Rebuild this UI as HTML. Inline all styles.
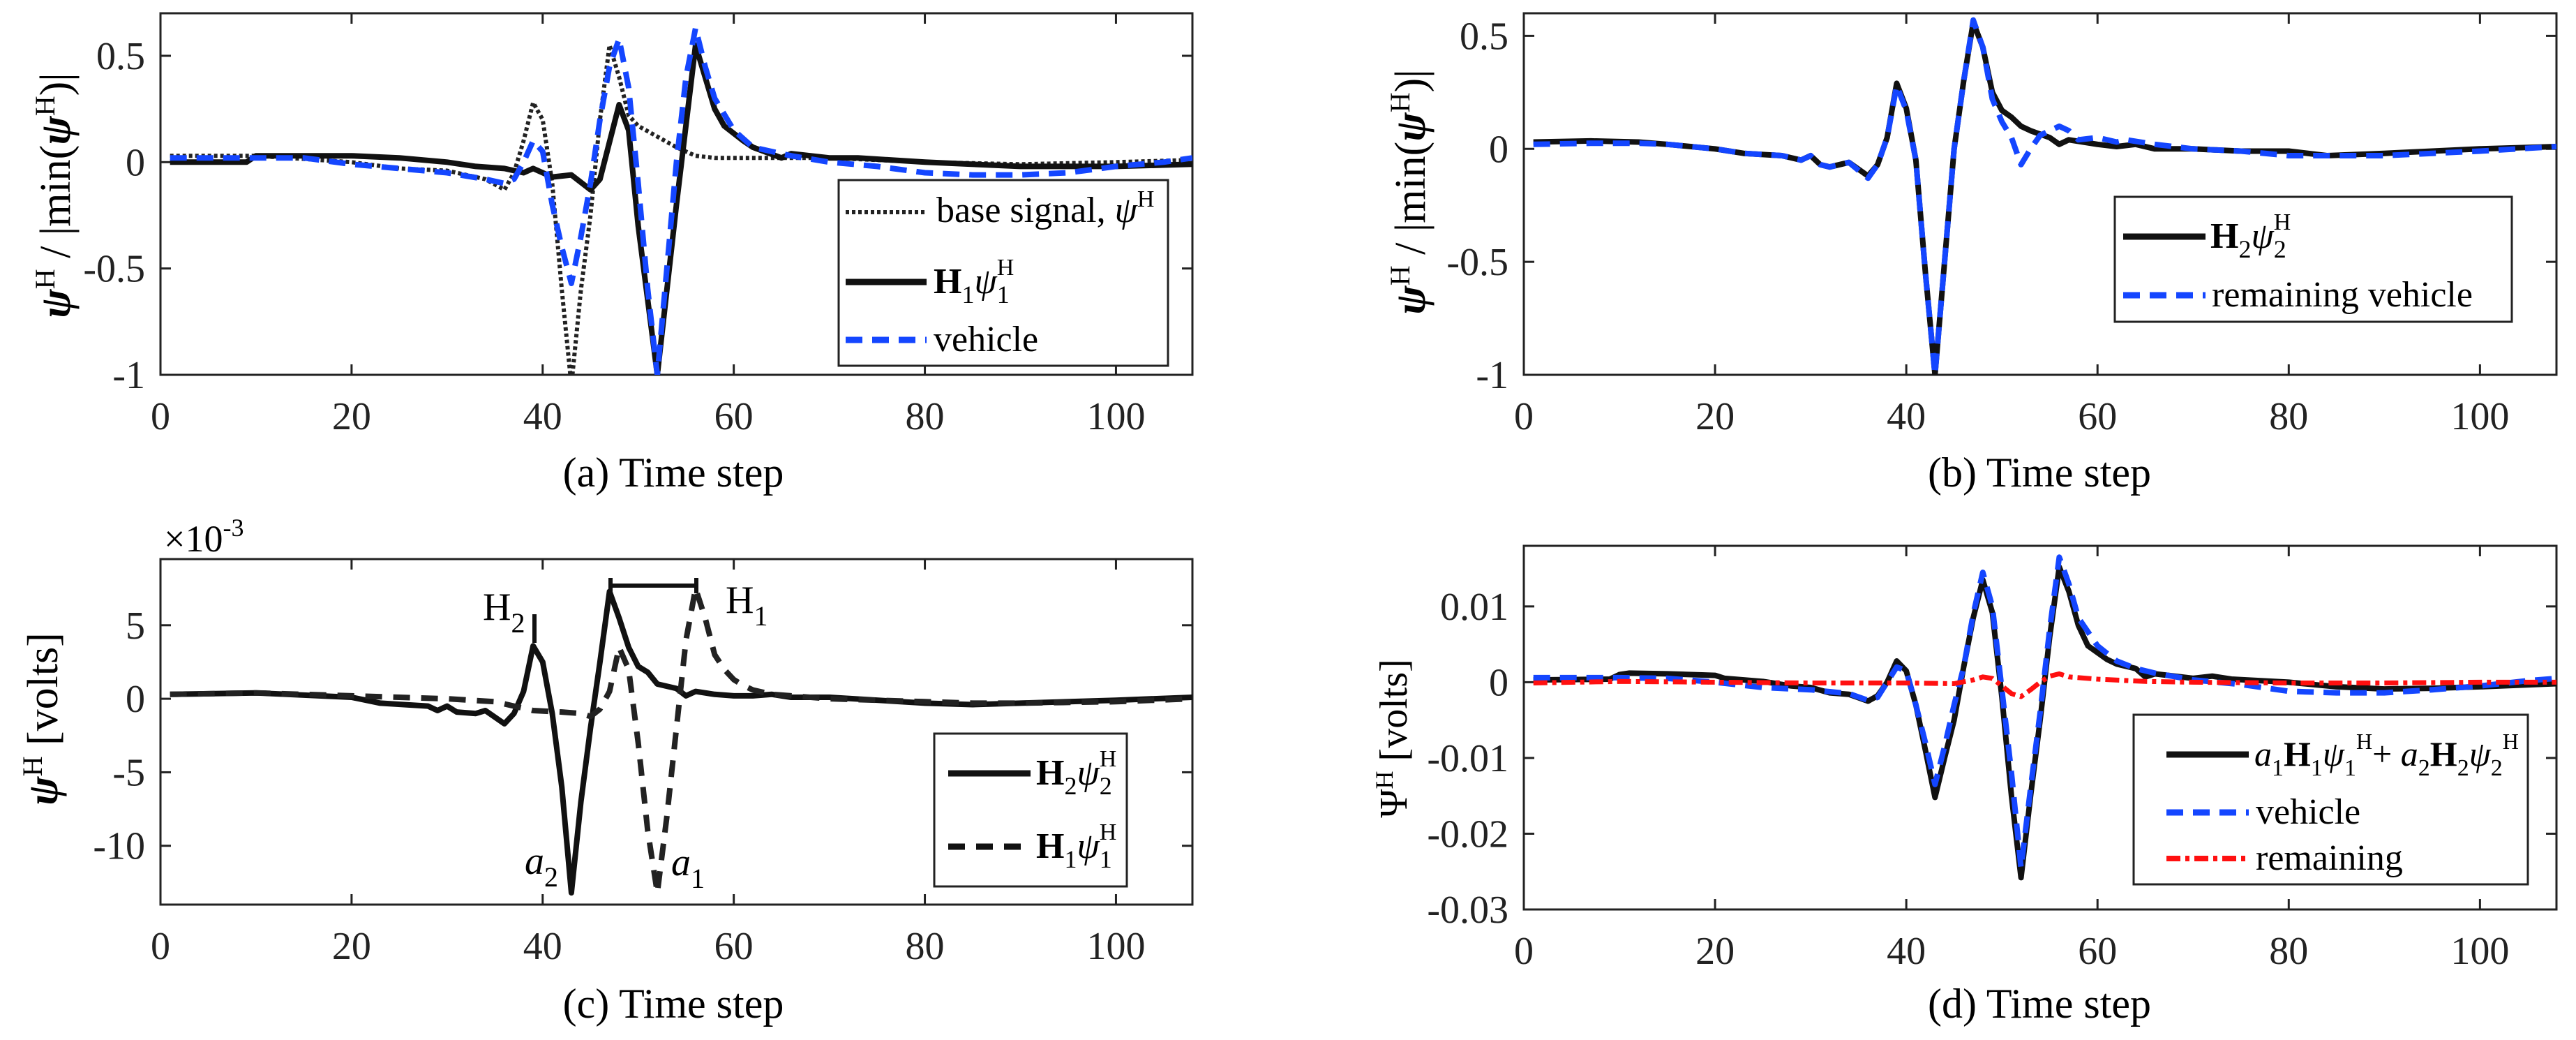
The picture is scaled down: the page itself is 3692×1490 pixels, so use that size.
<!DOCTYPE html>
<html><head><meta charset="utf-8"><style>
html,body{margin:0;padding:0;background:#fff;}
svg{display:block;}
svg text{font-family:"Liberation Serif","DejaVu Serif",serif;}
</style></head><body>
<svg id="fig" width="3692" height="1490" viewBox="0 0 3692 1490" xmlns="http://www.w3.org/2000/svg" font-family="Liberation Serif, serif">
<defs>
<clipPath id="clipA"><rect x="230" y="19" width="1479" height="518"/></clipPath>
<clipPath id="clipB"><rect x="2184" y="19" width="1480" height="518"/></clipPath>
<clipPath id="clipC"><rect x="230" y="801" width="1479" height="495"/></clipPath>
<clipPath id="clipD"><rect x="2184" y="782" width="1480" height="521"/></clipPath>
</defs>
<g id="layer"></g>

<text x="965" y="697" font-size="60" text-anchor="middle">(a) Time step</text>
<text x="2923" y="697" font-size="60" text-anchor="middle">(b) Time step</text>
<text x="965" y="1458" font-size="60" text-anchor="middle">(c) Time step</text>
<text x="2923" y="1458" font-size="60" text-anchor="middle">(d) Time step</text>

<text transform="translate(100,280) rotate(-90)" font-size="62" text-anchor="middle"><tspan font-weight="bold" font-style="italic">ψ</tspan><tspan font-size="40" dy="-22">H</tspan><tspan dy="22"> / |min(</tspan><tspan font-weight="bold" font-style="italic">ψ</tspan><tspan font-size="40" dy="-22">H</tspan><tspan dy="22">)|</tspan></text>
<text transform="translate(2042,275) rotate(-90)" font-size="62" text-anchor="middle"><tspan font-weight="bold" font-style="italic">ψ</tspan><tspan font-size="40" dy="-22">H</tspan><tspan dy="22"> / |min(</tspan><tspan font-weight="bold" font-style="italic">ψ</tspan><tspan font-size="40" dy="-22">H</tspan><tspan dy="22">)|</tspan></text>
<text transform="translate(82,1030) rotate(-90)" font-size="62" text-anchor="middle"><tspan font-weight="bold" font-style="italic">ψ</tspan><tspan font-size="40" dy="-22">H</tspan><tspan dy="22"> [volts]</tspan></text>
<text transform="translate(2016,1058) rotate(-90)" font-size="56" text-anchor="middle"><tspan>Ψ</tspan><tspan font-size="36" dy="-20">H</tspan><tspan dy="20"> [volts]</tspan></text>

<text x="235" y="790" font-size="54">×10<tspan font-size="36" dy="-22">-3</tspan></text>

<g stroke="#111" stroke-width="6" fill="none">
<line x1="766" y1="880" x2="766" y2="921"/>
<line x1="875" y1="839" x2="998" y2="839"/>
<line x1="875" y1="828" x2="875" y2="850"/>
<line x1="998" y1="828" x2="998" y2="850"/>
</g>
<text x="692" y="888" font-size="56">H<tspan font-size="40" dy="18">2</tspan></text>
<text x="1040" y="878" font-size="56">H<tspan font-size="40" dy="18">1</tspan></text>
<text x="752" y="1252" font-size="56" font-style="italic">a<tspan font-size="40" font-style="normal" dy="18">2</tspan></text>
<text x="962" y="1254" font-size="56" font-style="italic">a<tspan font-size="40" font-style="normal" dy="18">1</tspan></text>

<g>
<rect x="1202" y="258" width="472" height="266" fill="#fff" stroke="#222" stroke-width="3"/>
<line x1="1212" y1="304" x2="1328" y2="304" stroke="#222" stroke-width="6" stroke-dasharray="5 4"/>
<text x="1342" y="318" font-size="52">base signal, <tspan font-style="italic">ψ</tspan><tspan font-size="34" dy="-22">H</tspan></text>
<line x1="1212" y1="404" x2="1328" y2="404" stroke="#111" stroke-width="9"/>
<text x="1338" y="420" font-size="52"><tspan font-weight="bold">H</tspan><tspan font-size="36" dy="14">1</tspan><tspan font-style="italic" dy="-14">ψ</tspan><tspan font-size="36" dy="14">1</tspan><tspan font-size="34" dx="-18" dy="-40">H</tspan></text>
<line x1="1212" y1="487" x2="1328" y2="487" stroke="#1446ff" stroke-width="9" stroke-dasharray="24 14"/>
<text x="1338" y="503" font-size="52">vehicle</text>
</g>
<g>
<rect x="3031" y="282" width="569" height="179" fill="#fff" stroke="#222" stroke-width="3"/>
<line x1="3043" y1="339" x2="3161" y2="339" stroke="#111" stroke-width="9"/>
<text x="3168" y="355" font-size="52"><tspan font-weight="bold">H</tspan><tspan font-size="36" dy="14">2</tspan><tspan font-style="italic" dy="-14">ψ</tspan><tspan font-size="36" dy="14">2</tspan><tspan font-size="34" dx="-18" dy="-40">H</tspan></text>
<line x1="3043" y1="423" x2="3161" y2="423" stroke="#1446ff" stroke-width="9" stroke-dasharray="24 14"/>
<text x="3170" y="439" font-size="52">remaining vehicle</text>
</g>
<g>
<rect x="1339" y="1051" width="276" height="219" fill="#fff" stroke="#222" stroke-width="3"/>
<line x1="1359" y1="1108" x2="1477" y2="1108" stroke="#111" stroke-width="9"/>
<text x="1485" y="1124" font-size="52"><tspan font-weight="bold">H</tspan><tspan font-size="36" dy="14">2</tspan><tspan font-style="italic" dy="-14">ψ</tspan><tspan font-size="36" dy="14">2</tspan><tspan font-size="34" dx="-18" dy="-40">H</tspan></text>
<line x1="1359" y1="1213" x2="1477" y2="1213" stroke="#111" stroke-width="9" stroke-dasharray="24 16"/>
<text x="1485" y="1229" font-size="52"><tspan font-weight="bold">H</tspan><tspan font-size="36" dy="14">1</tspan><tspan font-style="italic" dy="-14">ψ</tspan><tspan font-size="36" dy="14">1</tspan><tspan font-size="34" dx="-18" dy="-40">H</tspan></text>
</g>
<g>
<rect x="3058" y="1024" width="565" height="243" fill="#fff" stroke="#222" stroke-width="3"/>
<line x1="3105" y1="1081" x2="3223" y2="1081" stroke="#111" stroke-width="9"/>
<text x="3231" y="1097" font-size="50"><tspan font-style="italic">a</tspan><tspan font-size="34" dy="14">1</tspan><tspan font-weight="bold" dy="-14">H</tspan><tspan font-size="34" dy="14">1</tspan><tspan font-style="italic" dy="-14">ψ</tspan><tspan font-size="34" dy="14">1</tspan><tspan font-size="32" dy="-38">H</tspan><tspan dy="24">+ </tspan><tspan font-style="italic">a</tspan><tspan font-size="34" dy="14">2</tspan><tspan font-weight="bold" dy="-14">H</tspan><tspan font-size="34" dy="14">2</tspan><tspan font-style="italic" dy="-14">ψ</tspan><tspan font-size="34" dy="14">2</tspan><tspan font-size="32" dy="-38">H</tspan></text>
<line x1="3105" y1="1164" x2="3223" y2="1164" stroke="#1446ff" stroke-width="9" stroke-dasharray="24 14"/>
<text x="3233" y="1180" font-size="52">vehicle</text>
<line x1="3105" y1="1230" x2="3223" y2="1230" stroke="#ff1010" stroke-width="8" stroke-dasharray="20 7 6 7"/>
<text x="3233" y="1246" font-size="52">remaining</text>
</g>
</svg>
<script>
const xTicks = [0,20,40,60,80,100];
const xTickLabels = ["0","20","40","60","80","100"];
const aYTicks = [-1,-0.5,0,0.5];
const aYTickLabels = ["-1","-0.5","0","0.5"];
const bYTicks = [-1,-0.5,0,0.5];
const bYTickLabels = ["-1","-0.5","0","0.5"];
const cYTicks = [-10,-5,0,5];
const cYTickLabels = ["-10","-5","0","5"];
const dYTicks = [-0.03,-0.02,-0.01,0,0.01];
const dYTickLabels = ["-0.03","-0.02","-0.01","0","0.01"];

const aBaseX = [1,10,20,25,30,34,36,37,38,39,40,41,42,43,44,45,46,47,48,49,50,52,54,56,58,60,62,65,70,80,90,100,108];
const aBaseY = [0.03,0.03,0.0,-0.03,-0.04,-0.08,-0.13,-0.05,0.1,0.28,0.2,-0.1,-0.6,-1.05,-0.6,-0.25,0.2,0.55,0.4,0.22,0.17,0.12,0.07,0.03,0.02,0.02,0.02,0.02,0.02,0.0,-0.01,0.0,0.01];
const aH1X = [1,9,10,20,25,30,33,36,38,39,41,43,45,46,48,49,50,52,54,56,58,59,61,62,65,66,70,73,80,90,95,100,108];
const aH1Y = [0,0,0.03,0.03,0.02,0.0,-0.02,-0.03,-0.05,-0.03,-0.07,-0.06,-0.13,-0.08,0.27,0.15,-0.3,-1.0,-0.2,0.55,0.25,0.17,0.1,0.07,0.02,0.04,0.02,0.02,0.0,-0.02,-0.02,-0.02,-0.01];
const aVehX = [1,10,15,20,25,30,34,36,37,38,39,40,41,42,43,44,45,46,47,48,49,50,51,52,53,54,55,56,57,58,60,62,64,66,70,75,80,85,90,95,100,105,108];
const aVehY = [0.02,0.02,0.02,-0.01,-0.03,-0.05,-0.08,-0.1,-0.08,0.0,0.1,0.05,-0.2,-0.4,-0.57,-0.35,-0.1,0.2,0.45,0.58,0.35,-0.1,-0.6,-1.0,-0.5,0.0,0.4,0.63,0.45,0.3,0.15,0.07,0.05,0.03,0.0,-0.02,-0.05,-0.06,-0.06,-0.05,-0.02,0.0,0.02];

const bH2X = [1,7,12,15,20,23,27,29,30,31,32,34,36,37,38,39,40,41,42,43,44,45,46,47,48,49,50,51,52,53,55,56,57,60,62,64,66,70,75,80,84,90,95,100,108];
const bH2Y = [0.03,0.035,0.03,0.02,0.0,-0.02,-0.03,-0.05,-0.03,-0.07,-0.08,-0.06,-0.12,-0.07,0.05,0.29,0.18,-0.05,-0.55,-1.0,-0.5,0.0,0.3,0.56,0.45,0.25,0.17,0.14,0.1,0.08,0.05,0.02,0.04,0.02,0.01,0.02,0.0,0.0,-0.01,-0.01,-0.03,-0.02,-0.01,0.0,0.01];
const bRemX = [1,7,12,15,20,23,27,29,30,31,32,34,36,37,38,39,40,41,42,43,44,45,46,47,48,49,50,51,52,53,54,56,57,58,60,62,63,66,70,75,80,85,90,95,100,108];
const bRemY = [0.02,0.025,0.025,0.02,0.0,-0.02,-0.03,-0.05,-0.03,-0.07,-0.08,-0.06,-0.13,-0.07,0.05,0.28,0.17,-0.05,-0.55,-1.0,-0.5,0.0,0.3,0.57,0.45,0.22,0.12,0.05,-0.07,0.0,0.06,0.1,0.08,0.04,0.05,0.03,0.04,0.02,0.0,-0.01,-0.03,-0.03,-0.03,-0.02,-0.01,0.01];

const cH2X = [1,10,20,23,28,29,30,31,33,34,36,37,38,39,40,41,42,43,44,45,46,47,48,49,50,51,52,54,55,56,58,60,62,64,66,70,80,85,90,100,108];
const cH2Y = [0.3,0.4,0.1,-0.3,-0.5,-0.8,-0.5,-0.9,-1.0,-0.8,-1.7,-1.0,0.5,3.6,2.5,-1.0,-6.0,-13.2,-7.0,-2.0,2.5,7.3,5.5,3.5,2.2,1.8,1.0,0.7,0.2,0.5,0.3,0.2,0.2,0.3,0.1,0.1,-0.3,-0.4,-0.3,-0.1,0.1];
const cH1X = [1,10,20,25,30,35,37,39,42,44,45,46,47,48,49,50,51,52,53,54,55,56,57,58,59,60,61,62,64,66,70,80,85,90,100,108];
const cH1Y = [0.3,0.4,0.2,0.1,0.0,-0.2,-0.5,-0.8,-0.9,-1.0,-1.2,-0.7,0.5,3.5,2.0,-3.0,-9.0,-13.2,-8.0,-2.0,4.0,7.5,5.5,3.0,2.0,1.3,0.9,0.6,0.3,0.2,0.0,-0.2,-0.3,-0.3,-0.2,0.0];

const dSumX = [1,9,10,11,15,20,21,25,28,30,32,34,36,37,38,39,40,41,42,43,44,45,46,47,48,49,50,51,52,53,54,55,56,57,58,59,61,62,64,65,66,70,72,74,80,85,90,95,100,108];
const dSumY = [0.0003,0.0004,0.001,0.0012,0.0011,0.0009,0.0005,0.0001,-0.0005,-0.0007,-0.0014,-0.0016,-0.0025,-0.0018,0.0,0.0028,0.0015,-0.003,-0.009,-0.0152,-0.01,-0.005,0.002,0.0085,0.0135,0.0092,-0.002,-0.015,-0.0258,-0.015,-0.005,0.006,0.0152,0.012,0.0075,0.0048,0.003,0.0024,0.0018,0.0007,0.0011,0.0005,0.0008,0.0004,0.0,-0.0006,-0.0009,-0.0008,-0.0006,-0.0002];
const dVehX = [1,10,15,20,25,30,34,36,37,38,39,40,41,42,43,44,45,46,47,48,49,50,51,52,53,54,55,56,57,58,60,62,64,66,70,75,80,85,90,95,100,105,108];
const dVehY = [0.0006,0.0006,0.0005,0.0,-0.0007,-0.001,-0.0015,-0.0024,-0.002,0.0,0.002,0.0015,-0.003,-0.008,-0.0135,-0.0085,-0.003,0.002,0.009,0.0145,0.01,-0.001,-0.012,-0.0245,-0.014,-0.004,0.007,0.0165,0.013,0.0085,0.0048,0.0028,0.0018,0.0012,0.0003,-0.0003,-0.0012,-0.0014,-0.0014,-0.001,-0.0005,0.0002,0.0005];
const dRemX = [1,10,20,30,40,45,47,48,49,50,51,52,53,54,55,56,57,60,65,70,80,90,100,108];
const dRemY = [-0.0001,0.0001,0.0,-0.0001,-0.0001,-0.0002,0.0003,0.0007,0.0005,-0.0005,-0.0015,-0.0019,-0.001,0.0,0.0008,0.0011,0.0007,0.0004,0.0001,0.0,-0.0001,-0.0001,0.0,0.0];

const NS = "http://www.w3.org/2000/svg";
const layer = document.getElementById('layer');
function mk(tag, attrs, parent){
  const e = document.createElementNS(NS, tag);
  for (const k in attrs) e.setAttribute(k, attrs[k]);
  (parent||layer).appendChild(e);
  return e;
}
function makeAxis(x0,x1,y0,y1,xmin,xmax,ymin,ymax){
  return {
    sx: v => x0 + (v - xmin) / (xmax - xmin) * (x1 - x0),
    sy: v => y1 - (v - ymin) / (ymax - ymin) * (y1 - y0),
    x0, x1, y0, y1
  };
}
const axA = makeAxis(230,1709,19,537,0,108,-1,0.7);
const axB = makeAxis(2184,3664,19,537,0,108,-1,0.6);
const axC = makeAxis(230,1709,801,1296,0,108,-14,9.5);
const axD = makeAxis(2184,3664,782,1303,0,108,-0.03,0.018);

function drawFrame(ax, yt, ytl, name){
  const g = mk('g', {});
  
  
  mk('rect', {x:ax.x0, y:ax.y0, width:ax.x1-ax.x0, height:ax.y1-ax.y0, fill:'none', stroke:'#222', 'stroke-width':3}, g);
  xTicks.forEach((t,i) => {
    const x = ax.sx(t);
    mk('line', {x1:x, y1:ax.y1, x2:x, y2:ax.y1-15, stroke:'#222', 'stroke-width':3}, g);
    mk('line', {x1:x, y1:ax.y0, x2:x, y2:ax.y0+15, stroke:'#222', 'stroke-width':3}, g);
    const tx = mk('text', {x:x, y:ax.y1+78, 'font-size':56, 'text-anchor':'middle', fill:'#222'}, g);
    
    
    tx.textContent = xTickLabels[i];
  });
  yt.forEach((t,i) => {
    const y = ax.sy(t);
    mk('line', {x1:ax.x0, y1:y, x2:ax.x0+15, y2:y, stroke:'#222', 'stroke-width':3}, g);
    mk('line', {x1:ax.x1, y1:y, x2:ax.x1-15, y2:y, stroke:'#222', 'stroke-width':3}, g);
    const tx = mk('text', {x:ax.x0-22, y:y+19, 'font-size':56, 'text-anchor':'end', fill:'#222'}, g);
    
    
    tx.textContent = ytl[i];
  });
}
function drawLine(ax, xs, ys, clip, style, name){
  let d = '';
  xs.forEach((v,i) => { d += (i ? 'L' : 'M') + ax.sx(v).toFixed(1) + ',' + ax.sy(ys[i]).toFixed(1); });
  const p = mk('path', Object.assign({d:d, fill:'none', 'clip-path':'url(#'+clip+')', 'stroke-linejoin':'round'}, style));
  
  
}
drawFrame(axA, aYTicks, aYTickLabels, 'panel-a');
drawFrame(axB, bYTicks, bYTickLabels, 'panel-b');
drawFrame(axC, cYTicks, cYTickLabels, 'panel-c');
drawFrame(axD, dYTicks, dYTickLabels, 'panel-d');

const solid = {stroke:'#111', 'stroke-width':8};
const blueDash = {stroke:'#1446ff', 'stroke-width':8, 'stroke-dasharray':'24 14'};
drawLine(axA, aBaseX, aBaseY, 'clipA', {stroke:'#222', 'stroke-width':6, 'stroke-dasharray':'5 4'}, 'series-a-base-signal');
drawLine(axA, aH1X, aH1Y, 'clipA', solid, 'series-a-h1');
drawLine(axA, aVehX, aVehY, 'clipA', blueDash, 'series-a-vehicle');

drawLine(axB, bH2X, bH2Y, 'clipB', solid, 'series-b-h2');
drawLine(axB, bRemX, bRemY, 'clipB', blueDash, 'series-b-remaining-vehicle');

drawLine(axC, cH2X, cH2Y, 'clipC', solid, 'series-c-h2');
drawLine(axC, cH1X, cH1Y, 'clipC', {stroke:'#222', 'stroke-width':8, 'stroke-dasharray':'24 16'}, 'series-c-h1');

drawLine(axD, dSumX, dSumY, 'clipD', solid, 'series-d-sum');
drawLine(axD, dVehX, dVehY, 'clipD', blueDash, 'series-d-vehicle');
drawLine(axD, dRemX, dRemY, 'clipD', {stroke:'#ff1010', 'stroke-width':7, 'stroke-dasharray':'20 7 6 7'}, 'series-d-remaining');
</script>
</body></html>
